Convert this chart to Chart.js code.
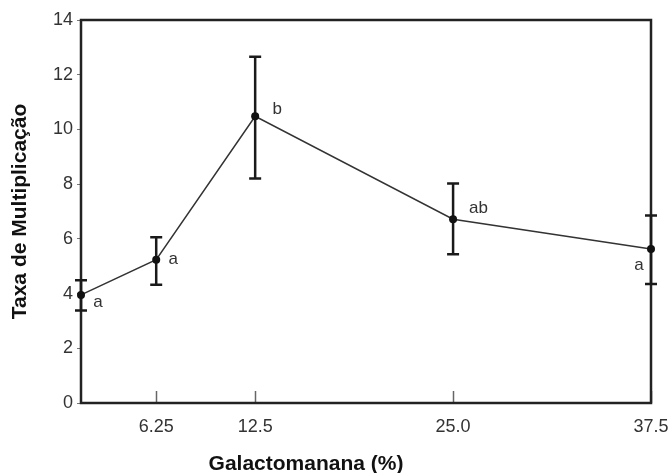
<!DOCTYPE html>
<html>
<head>
<meta charset="utf-8">
<script src="https://cdn.jsdelivr.net/npm/chart.js@4"></script>
<style>
  html, body { margin: 0; padding: 0; background: #fff; }
  canvas { display: block; }
</style>
</head>
<body>
<canvas id="myChart" width="670" height="473"></canvas>
<script>
// galactomannan concentration (%) and multiplication rate
const xStart = 1.5;
const concentrations = [xStart, 6.25, 12.5, 25.0, 37.5];
const taxa = [3.95, 5.24, 10.48, 6.72, 5.63];
const errLow = [3.38, 4.32, 8.21, 5.44, 4.35];
const errHigh = [4.49, 6.06, 12.66, 8.02, 6.85];
const letras = ['a', 'a', 'b', 'ab', 'a'];
const xTicks = [6.25, 12.5, 25.0, 37.5];
const xTickLabels = ['6.25', '12.5', '25.0', '37.5'];
const yTicks = [0, 2, 4, 6, 8, 10, 12, 14];

const fontFam = '"Liberation Sans", Arial, Helvetica, sans-serif';

// where each letter sits relative to its point
const letterPos = [
  { dx: 17, dy: 12, align: 'center' },
  { dx: 17, dy: 4, align: 'center' },
  { dx: 22, dy: -2, align: 'center' },
  { dx: 16, dy: -6, align: 'left' },
  { dx: -12, dy: 21, align: 'center' }
];

const extras = {
  id: 'extras',
  beforeDatasetsDraw(chart) {
    const ctx = chart.ctx;
    const xs = chart.scales.x, ys = chart.scales.y;
    const a = chart.chartArea;
    ctx.save();

    // x ticks pointing inward
    ctx.strokeStyle = '#666';
    ctx.lineWidth = 1.5;
    xTicks.forEach(v => {
      const px = Math.round(xs.getPixelForValue(v)) + 0.5;
      ctx.beginPath();
      ctx.moveTo(px, a.bottom);
      ctx.lineTo(px, a.bottom - 12);
      ctx.stroke();
    });

    // frame
    ctx.strokeStyle = '#222';
    ctx.lineWidth = 2.5;
    ctx.strokeRect(a.left, a.top, a.right - a.left, a.bottom - a.top);

    // error bars
    ctx.lineWidth = 2.5;
    ctx.strokeStyle = '#1a1a1a';
    concentrations.forEach((c, i) => {
      const px = xs.getPixelForValue(c);
      const lo = ys.getPixelForValue(errLow[i]);
      const hi = ys.getPixelForValue(errHigh[i]);
      ctx.beginPath();
      ctx.moveTo(px, lo); ctx.lineTo(px, hi);
      ctx.moveTo(px - 6, lo); ctx.lineTo(px + 6, lo);
      ctx.moveTo(px - 6, hi); ctx.lineTo(px + 6, hi);
      ctx.stroke();
    });
    ctx.restore();
  },
  afterDatasetsDraw(chart) {
    const ctx = chart.ctx;
    const xs = chart.scales.x, ys = chart.scales.y;
    ctx.save();
    ctx.fillStyle = '#333';
    ctx.font = '17px ' + fontFam;
    ctx.textBaseline = 'alphabetic';
    letras.forEach((t, i) => {
      const px = xs.getPixelForValue(concentrations[i]);
      const py = ys.getPixelForValue(taxa[i]);
      ctx.textAlign = letterPos[i].align;
      ctx.fillText(t, px + letterPos[i].dx, py + letterPos[i].dy);
    });

    // x axis title
    ctx.fillStyle = '#111';
    ctx.font = 'bold 21px ' + fontFam;
    ctx.textAlign = 'center';
    ctx.textBaseline = 'middle';
    ctx.fillText('Galactomanana (%)', 306, 464);
    ctx.restore();
  }
};

new Chart(document.getElementById('myChart'), {
  type: 'line',
  data: {
    datasets: [{
      data: concentrations.map((c, i) => ({ x: c, y: taxa[i] })),
      borderColor: '#333',
      borderWidth: 1.5,
      pointRadius: 4,
      pointBackgroundColor: '#111',
      pointBorderColor: '#111',
      pointBorderWidth: 0,
      tension: 0,
      clip: false
    }]
  },
  options: {
    responsive: false,
    animation: false,
    layout: { padding: { left: 0, right: 19, top: 20, bottom: 0 } },
    plugins: {
      legend: { display: false },
      tooltip: { enabled: false }
    },
    scales: {
      x: {
        type: 'linear',
        min: xStart,
        max: 37.5,
        afterBuildTicks: scale => { scale.ticks = xTicks.map(v => ({ value: v })); },
        afterFit: scale => {
          scale.height = 70;
          scale.paddingLeft = 0;
          scale.paddingRight = 0;
        },
        border: { display: false },
        grid: { display: false, drawTicks: false },
        ticks: {
          autoSkip: false,
          maxRotation: 0,
          padding: 13,
          color: '#333',
          font: { size: 18, family: fontFam },
          callback: v => xTickLabels[xTicks.indexOf(v)]
        }
      },
      y: {
        min: 0,
        max: 14,
        afterBuildTicks: scale => { scale.ticks = yTicks.map(v => ({ value: v })); },
        afterFit: scale => {
          scale.width = 81;
          scale.paddingTop = 0;
          scale.paddingBottom = 0;
        },
        border: { display: false },
        grid: {
          drawOnChartArea: false,
          drawTicks: true,
          tickLength: 4,
          color: '#777',
          lineWidth: 1
        },
        ticks: {
          padding: 4,
          color: '#333',
          font: { size: 18, family: fontFam }
        },
        title: {
          display: true,
          text: 'Taxa de Multiplicação',
          color: '#111',
          font: { size: 21, weight: 'bold', family: fontFam },
          padding: { top: 8, bottom: 0 }
        }
      }
    }
  },
  plugins: [extras]
});
</script>
</body>
</html>
